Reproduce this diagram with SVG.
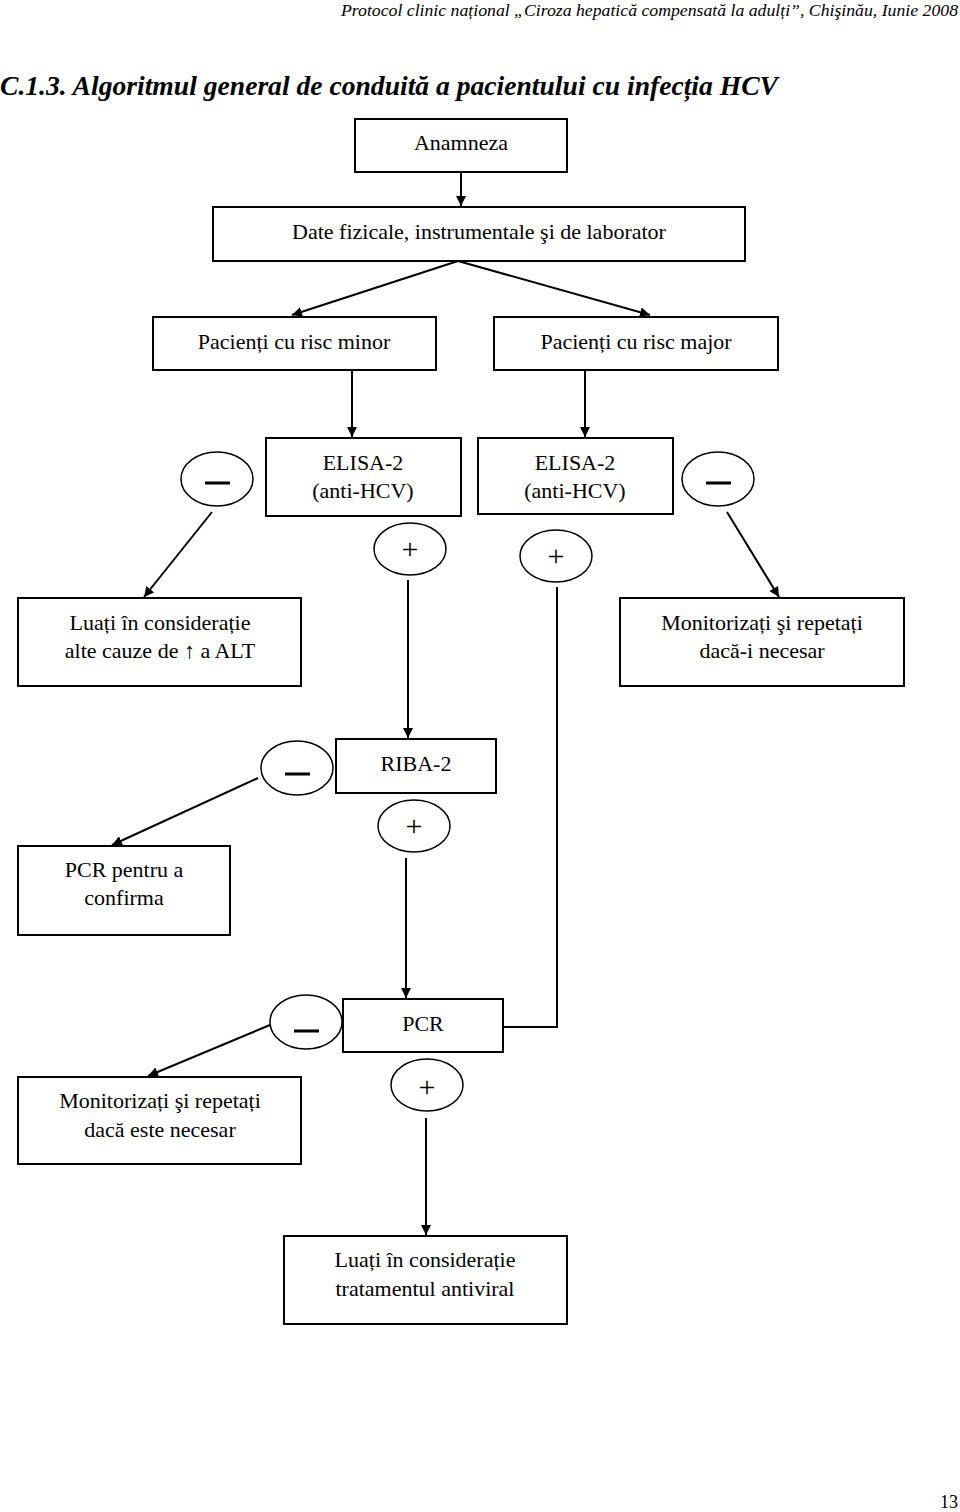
<svg xmlns="http://www.w3.org/2000/svg" width="960" height="1512" viewBox="0 0 960 1512">
<defs>
<marker id="ah" viewBox="0 0 10 10" refX="10" refY="5" markerWidth="10" markerHeight="10" markerUnits="userSpaceOnUse" orient="auto"><path d="M0,0L10,5L0,10z" fill="#000"/></marker>
<style>
rect{fill:#fff;stroke:#000;stroke-width:2}
ellipse{fill:#fff;stroke:#000;stroke-width:1.5}
text{font-family:"Liberation Serif",serif;font-size:22px;fill:#000;text-anchor:middle}
.c line,.c polyline{stroke:#000;stroke-width:2;fill:none;marker-end:url(#ah)}
.c .n{marker-end:none}
.sg{font-size:30px}
</style>
</defs>
<rect x="0" y="0" width="960" height="1512" style="fill:#fff;stroke:none"/>
<text x="958" y="16" style="font-size:16px;font-style:italic;text-anchor:end" textLength="617" lengthAdjust="spacingAndGlyphs">Protocol clinic național „Ciroza hepatică compensată la adulți”, Chişinău, Iunie 2008</text>
<text x="0" y="95" style="font-size:28px;font-style:italic;font-weight:bold;text-anchor:start" textLength="778" lengthAdjust="spacingAndGlyphs">C.1.3. Algoritmul general de conduită a pacientului cu infecția HCV</text>
<g class="c" id="connectors">
<line x1="461" y1="172" x2="461" y2="206"/>
<line x1="458" y1="261" x2="292" y2="315"/>
<line x1="458" y1="261" x2="650" y2="315"/>
<line x1="352" y1="370" x2="352" y2="437"/>
<line x1="585" y1="370" x2="585" y2="437"/>
<line x1="212" y1="512" x2="144" y2="597"/>
<line x1="727" y1="512" x2="779" y2="597"/>
<line x1="408" y1="580" x2="408" y2="738"/>
<polyline points="557,587 557,1027 343,1027"/>
<line x1="258" y1="778" x2="112" y2="845"/>
<line x1="406" y1="858" x2="406" y2="998"/>
<line x1="270" y1="1025" x2="148" y2="1076"/>
<line x1="426" y1="1118" x2="426" y2="1235"/>
</g>
<g id="anamneza"><rect x="355" y="119" width="212" height="53"/><text x="461" y="150">Anamneza</text></g>
<g id="date"><rect x="213" y="207" width="532" height="54"/><text x="479" y="239">Date fizicale, instrumentale şi de laborator</text></g>
<g id="minor"><rect x="153" y="317" width="283" height="53"/><text x="294" y="349">Pacienți cu risc minor</text></g>
<g id="major"><rect x="494" y="317" width="284" height="53"/><text x="636" y="349">Pacienți cu risc major</text></g>
<g id="elisa1"><rect x="266" y="438" width="195" height="78"/><text x="363" y="470">ELISA-2</text><text x="363" y="498">(anti-HCV)</text></g>
<g id="elisa2"><rect x="478" y="438" width="195" height="76"/><text x="575" y="470">ELISA-2</text><text x="575" y="498">(anti-HCV)</text></g>
<g id="neg1"><ellipse cx="217" cy="479" rx="36" ry="27"/><line x1="205" y1="483" x2="230" y2="483" stroke="#000" stroke-width="3"/></g>
<g id="neg2"><ellipse cx="718" cy="479" rx="36" ry="27"/><line x1="706" y1="483" x2="731" y2="483" stroke="#000" stroke-width="3"/></g>
<g id="pos1"><ellipse cx="410" cy="549" rx="36" ry="26"/><text x="410" y="559" class="sg">+</text></g>
<g id="pos2"><ellipse cx="556" cy="556" rx="36" ry="26"/><text x="556" y="566" class="sg">+</text></g>
<g id="luati1"><rect x="18" y="598" width="283" height="88"/><text x="160" y="630">Luați în considerație</text><text x="160" y="658">alte cauze de ↑ a ALT</text></g>
<g id="monit1"><rect x="620" y="598" width="284" height="88"/><text x="762" y="630">Monitorizați şi repetați</text><text x="762" y="658">dacă-i necesar</text></g>
<g id="riba"><rect x="336" y="739" width="160" height="54"/><text x="416" y="771">RIBA-2</text></g>
<g id="neg3"><ellipse cx="297" cy="768" rx="36" ry="27"/><line x1="285" y1="774" x2="310" y2="774" stroke="#000" stroke-width="3"/></g>
<g id="pos3"><ellipse cx="414" cy="826" rx="36" ry="26"/><text x="414" y="836" class="sg">+</text></g>
<g id="pcrconf"><rect x="18" y="846" width="212" height="89"/><text x="124" y="877">PCR pentru a</text><text x="124" y="905">confirma</text></g>
<g id="pcr"><rect x="343" y="999" width="160" height="53"/><text x="423" y="1031">PCR</text></g>
<g id="neg4"><ellipse cx="306" cy="1022" rx="36" ry="27"/><line x1="294" y1="1031" x2="319" y2="1031" stroke="#000" stroke-width="3"/></g>
<g id="pos4"><ellipse cx="427" cy="1085" rx="36" ry="26"/><text x="427" y="1097" class="sg">+</text></g>
<g id="monit2"><rect x="18" y="1077" width="283" height="87"/><text x="160" y="1108">Monitorizați şi repetați</text><text x="160" y="1137">dacă este necesar</text></g>
<g id="final"><rect x="284" y="1236" width="283" height="88"/><text x="425" y="1267">Luați în considerație</text><text x="425" y="1296">tratamentul antiviral</text></g>
<text x="958" y="1508" style="font-size:18px;text-anchor:end">13</text>
</svg>
